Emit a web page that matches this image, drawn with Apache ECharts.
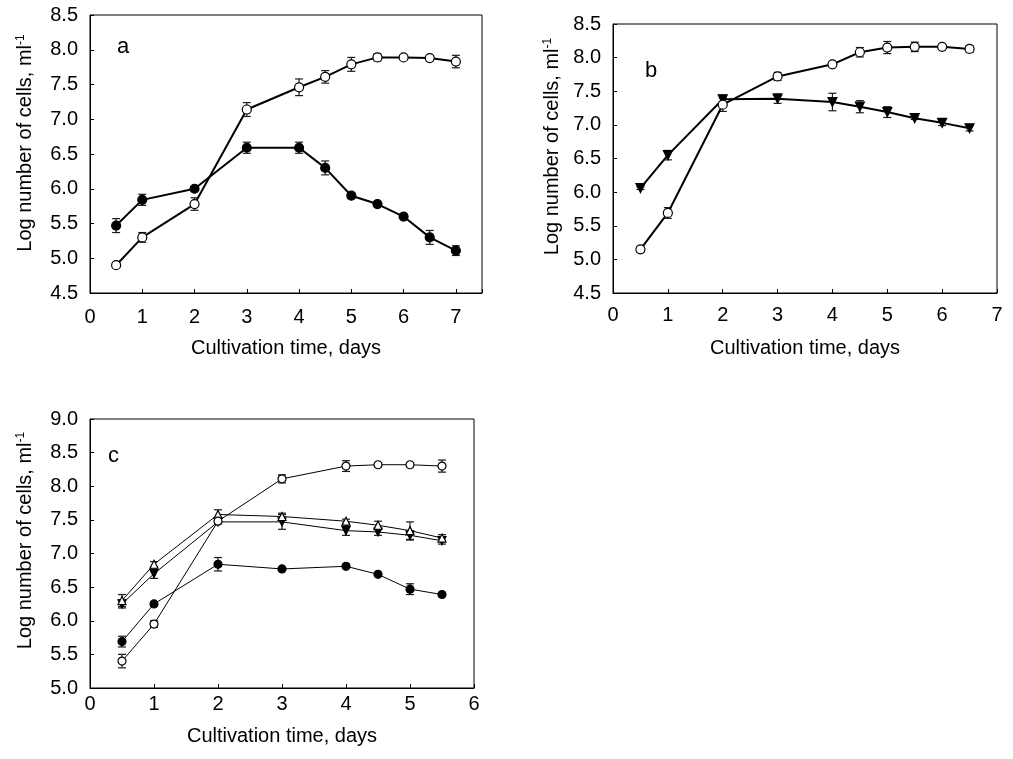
<!DOCTYPE html>
<html>
<head>
<meta charset="utf-8">
<script src="https://cdn.jsdelivr.net/npm/echarts@6/dist/echarts.min.js"></script>
<style>html,body{margin:0;padding:0;background:#fff;}#chart{width:1013px;height:759px;}</style>
</head>
<body>
<div id="chart"></div>
<script>
// ---- Data ----
const daysA = [0.5, 1, 2, 3, 4, 4.5, 5, 5.5, 6, 6.5, 7];
const aOpen = [4.90, 5.30, 5.78, 7.14, 7.46, 7.61, 7.79, 7.89, 7.89, 7.88, 7.83];
const aOpenErr = [0.02, 0.07, 0.09, 0.10, 0.12, 0.09, 0.10, 0.05, 0.02, 0.03, 0.09];
const aFilled = [5.47, 5.84, 6.00, 6.59, 6.59, 6.30, 5.90, 5.78, 5.60, 5.30, 5.11];
const aFilledErr = [0.10, 0.08, 0.03, 0.08, 0.08, 0.10, 0.04, 0.02, 0.03, 0.10, 0.07];

const daysB = [0.5, 1, 2, 3, 4, 4.5, 5, 5.5, 6, 6.5];
const bOpen = [5.15, 5.69, 7.30, 7.72, 7.90, 8.08, 8.15, 8.16, 8.16, 8.13];
const bOpenErr = [0.04, 0.08, 0.10, 0.06, 0.02, 0.07, 0.09, 0.07, 0.03, 0.05];
const bTriDown = [6.06, 6.55, 7.38, 7.39, 7.34, 7.27, 7.19, 7.10, 7.03, 6.95];
const bTriDownErr = [0.02, 0.07, 0.06, 0.07, 0.13, 0.09, 0.08, 0.02, 0.04, 0.04];

const daysC = [0.5, 1, 2, 3, 4, 4.5, 5, 5.5];
const cOpen = [5.40, 5.95, 7.48, 8.11, 8.30, 8.32, 8.32, 8.30];
const cOpenErr = [0.10, 0.05, 0.03, 0.06, 0.08, 0.03, 0.03, 0.09];
const cTriUp = [6.30, 6.84, 7.58, 7.55, 7.48, 7.42, 7.34, 7.23];
const cTriUpErr = [0.09, 0.04, 0.07, 0.05, 0.03, 0.06, 0.13, 0.05];
const cTriDown = [6.25, 6.70, 7.47, 7.47, 7.34, 7.32, 7.27, 7.19];
const cTriDownErr = [0.06, 0.07, 0.03, 0.11, 0.07, 0.05, 0.07, 0.05];
const cFilled = [5.69, 6.25, 6.84, 6.77, 6.81, 6.69, 6.47, 6.39];
const cFilledErr = [0.08, 0.03, 0.10, 0.02, 0.03, 0.02, 0.08, 0.03];

const xTitle = 'Cultivation time, days';
const yTitle = 'Log number of cells, ml{sup|-1}';
const panelLetters = ['a', 'b', 'c'];

// ---- Helpers ----
const FONT = 'Liberation Sans, Arial, Helvetica, sans-serif';
const pairs = (xs, ys) => xs.map((x, i) => [x, ys[i]]);
const triples = (xs, ys, es) => xs.map((x, i) => [x, ys[i], es[i]]);

function errRender(params, api) {
  const x = api.value(0), y = api.value(1), e = api.value(2);
  const t = api.coord([x, y + e]);
  const b = api.coord([x, y - e]);
  const hw = 4;
  const st = { stroke: '#1a1a1a', lineWidth: 1.2 };
  return {
    type: 'group',
    children: [
      { type: 'line', shape: { x1: t[0], y1: t[1], x2: b[0], y2: b[1] }, style: st },
      { type: 'line', shape: { x1: t[0] - hw, y1: t[1], x2: t[0] + hw, y2: t[1] }, style: st },
      { type: 'line', shape: { x1: b[0] - hw, y1: b[1], x2: b[0] + hw, y2: b[1] }, style: st }
    ]
  };
}

function errSeries(idx, xs, ys, es) {
  return {
    type: 'custom', xAxisIndex: idx, yAxisIndex: idx, z: 1,
    renderItem: errRender, encode: { x: 0, y: 1 },
    data: triples(xs, ys, es), silent: true
  };
}

function lineSeries(idx, xs, ys, kind, lw, size) {
  const open = kind === 'open' || kind === 'triUpOpen';
  const sym = (kind === 'open' || kind === 'filled') ? 'circle' : 'triangle';
  return {
    type: 'line', xAxisIndex: idx, yAxisIndex: idx, z: 2,
    data: pairs(xs, ys),
    symbol: sym,
    symbolSize: size,
    symbolRotate: kind === 'triDown' ? 180 : 0,
    showAllSymbol: true,
    lineStyle: { color: '#000', width: lw },
    itemStyle: { color: open ? '#fff' : '#000', borderColor: '#000', borderWidth: 1.2 },
    emphasis: { disabled: true },
    silent: true
  };
}

function xAxisDef(idx, max, labelMargin, nameGap) {
  return {
    gridIndex: idx, type: 'value', min: 0, max: max, interval: 1,
    axisLine: { show: true, lineStyle: { color: '#000', width: 1 } },
    axisTick: { show: true, inside: true, length: 4, lineStyle: { color: '#000' } },
    splitLine: { show: false },
    axisLabel: {
      margin: labelMargin, color: '#000', fontSize: 20, fontFamily: FONT,
      formatter: v => (Number.isInteger(v) ? String(v) : '')
    },
    name: xTitle, nameLocation: 'middle', nameGap: nameGap,
    nameTextStyle: { color: '#000', fontSize: 20, fontFamily: FONT }
  };
}

function yAxisDef(idx, min, max, nameGap, shift) {
  return {
    gridIndex: idx, type: 'value', min: min, max: max, interval: 0.5,
    axisLine: { show: true, lineStyle: { color: '#000', width: 1 } },
    axisTick: { show: true, inside: true, length: 4, lineStyle: { color: '#000' } },
    splitLine: { show: false },
    axisLabel: {
      margin: 12, color: '#000', fontSize: 20, fontFamily: FONT,
      formatter: v => v.toFixed(1)
    },
    name: yTitle, nameLocation: 'middle', nameGap: nameGap, nameRotate: 90,
    nameTextStyle: {
      color: '#000', fontSize: 20, fontFamily: FONT, padding: [0, 0, 0, shift],
      rich: { sup: { fontSize: 12, fontFamily: FONT, color: '#000', verticalAlign: 'top' } }
    }
  };
}

const gridStyle = { show: true, borderColor: '#000', borderWidth: 1, backgroundColor: 'transparent' };

const option = {
  animation: false,
  backgroundColor: '#fff',
  grid: [
    Object.assign({ left: 90, top: 15, width: 392, height: 278 }, gridStyle),
    Object.assign({ left: 613, top: 24, width: 384, height: 269 }, gridStyle),
    Object.assign({ left: 90, top: 419, width: 384, height: 269 }, gridStyle)
  ],
  xAxis: [
    xAxisDef(0, 7.5, 14, 45),
    xAxisDef(1, 7, 12, 45),
    xAxisDef(2, 6, 6, 38)
  ],
  yAxis: [
    yAxisDef(0, 4.5, 8.5, 55, 22),
    yAxisDef(1, 4.5, 8.5, 51, 24),
    yAxisDef(2, 5.0, 9.0, 55, 26)
  ],
  graphic: [
    { type: 'text', left: 117, top: 36, style: { text: panelLetters[0], font: '22px ' + FONT, fill: '#000' } },
    { type: 'text', left: 645, top: 60, style: { text: panelLetters[1], font: '22px ' + FONT, fill: '#000' } },
    { type: 'text', left: 108, top: 445, style: { text: panelLetters[2], font: '22px ' + FONT, fill: '#000' } }
  ],
  series: [
    errSeries(0, daysA, aOpen, aOpenErr),
    errSeries(0, daysA, aFilled, aFilledErr),
    lineSeries(0, daysA, aFilled, 'filled', 2, 9),
    lineSeries(0, daysA, aOpen, 'open', 2, 9),

    errSeries(1, daysB, bOpen, bOpenErr),
    errSeries(1, daysB, bTriDown, bTriDownErr),
    lineSeries(1, daysB, bTriDown, 'triDown', 2, 9),
    lineSeries(1, daysB, bOpen, 'open', 2, 9),

    errSeries(2, daysC, cOpen, cOpenErr),
    errSeries(2, daysC, cTriUp, cTriUpErr),
    errSeries(2, daysC, cTriDown, cTriDownErr),
    errSeries(2, daysC, cFilled, cFilledErr),
    lineSeries(2, daysC, cFilled, 'filled', 1, 8),
    lineSeries(2, daysC, cTriDown, 'triDown', 1, 8),
    lineSeries(2, daysC, cTriUp, 'triUpOpen', 1, 8),
    lineSeries(2, daysC, cOpen, 'open', 1, 8)
  ]
};

const chart = echarts.init(document.getElementById('chart'), null, { renderer: 'canvas' });
chart.setOption(option);
</script>
</body>
</html>
